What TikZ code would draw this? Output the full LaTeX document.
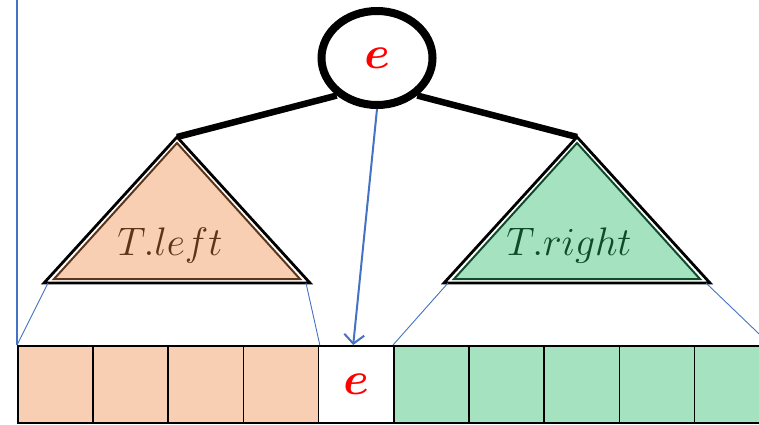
\documentclass[tikz,border=0pt]{standalone}
\usepackage{amsmath,amssymb,bm}
\usepackage{tikz}
\usetikzlibrary{shapes.geometric, arrows.meta, positioning, calc}

\definecolor{peach}{HTML}{F8CFB3}
\definecolor{mint}{HTML}{A5E2C0}
\definecolor{bark}{HTML}{5C3518}
\definecolor{pine}{HTML}{0F4A2B}
\definecolor{ptrblue}{HTML}{4472C4}

\newcommand{\keye}{\scalebox{1.85}{\Huge$\boldsymbol{e}$}}
\newcommand{\sublabel}[1]{\scalebox{1.6}{\Huge$#1$}}

\begin{document}
\begin{tikzpicture}[x=1pt, y=-1pt,
	treeedge/.style={line width=6.5pt},
	cell/.style={draw, line width=1.6pt, minimum width=75.2pt, minimum height=77pt, inner sep=0pt, anchor=north west}]
			\clip (0,0) rectangle (759,424);
			
			% the root e
			\node[ellipse, draw, line width=8pt, minimum width=111pt, minimum height=94pt, fill=white, text=red](root) at (377,58) {\keye};
			
			% corners of the two subtrees
			\coordinate (la) at (177,137); \coordinate (ll) at (44,283); \coordinate (lr) at (310,283);
			\coordinate (ra) at (577,137); \coordinate (rl) at (444,283); \coordinate (rr) at (710,283);
			
			\draw[treeedge] (root.223) -- (la);
			\draw[treeedge] (root.-43) -- (ra);
			
			\tikzstyle{subtree}=[line width=2.8pt, fill=white]
			\draw[subtree] (la) -- (ll) -- (lr) -- cycle;
			\draw[bark, line width=2pt, fill=peach] (177,143) -- (54,279) -- (300,279) -- cycle;
			\node[text=bark](tleft) at (170,246) {\sublabel{T.left}};
			
			\draw[subtree] (ra) -- (rl) -- (rr) -- cycle;
			\draw[pine, line width=2pt, fill=mint] (577,143) -- (454,279) -- (700,279) -- cycle;
			\node[text=pine](tright) at (569,246) {\sublabel{T.right}};
			
			% the array: left part, e, right part
			\foreach \i in {1,...,4} \node[cell, fill=peach](c\i) at ({17+75.2*(\i-1)},345) {};
			\node[cell, fill=white, text=red](c5) at ({17+75.2*4},345) {\keye};
			\foreach \i in {6,...,10} \node[cell, fill=mint](c\i) at ({17+75.2*(\i-1)},345) {};
			
			\draw[ptrblue, line width=1.3pt] (17,0) -- (c1.north west);
			\draw[ptrblue, line width=0.9pt] ($(ll)+(4,0)$) -- (c1.north west);
			\draw[ptrblue, line width=0.9pt] ($(lr)+(-4,0)$) -- ($(c5.north west)+(2,0)$);
			\draw[ptrblue, line width=0.9pt] ($(rl)+(4,0)$) -- (c6.north west);
			\draw[ptrblue, line width=0.9pt] ($(rr)+(-4,0)$) -- (c10.north east);
			
			\draw[ptrblue, line width=2pt, -{Straight Barb[length=9pt, width=20pt]}] (root.south) -- ([xshift=-3pt]c5.north);
			
			\end{tikzpicture}
\end{document}
